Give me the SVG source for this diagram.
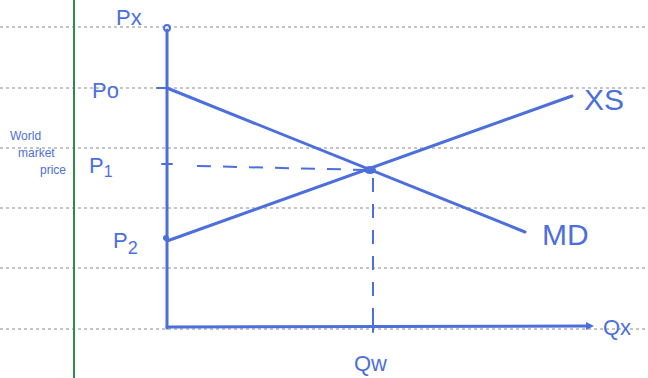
<svg xmlns="http://www.w3.org/2000/svg" width="648" height="378" viewBox="0 0 648 378">
<style>
.rule{stroke:#8a8a8a;stroke-width:1;stroke-dasharray:3 3}
.ink{stroke:#4d6fdb;stroke-width:3;fill:none;stroke-linecap:round}
.thin{stroke:#4d6fdb;stroke-width:2;fill:none;stroke-linecap:round}
.dash{stroke:#4d6fdb;stroke-width:2;fill:none;stroke-dasharray:14 12}
text{font-family:"Liberation Sans",Arial,sans-serif;fill:#4d6fdb}
.lab{font-size:22px}
.big{font-size:30px}
.small{font-size:12px}
</style>
<defs>
<marker id="arr" markerWidth="8" markerHeight="8" refX="4" refY="4" orient="auto" markerUnits="userSpaceOnUse">
<path d="M0,0 L8,4 L0,8 Z" fill="#4d6fdb"/>
</marker>
</defs>
<rect width="648" height="378" fill="#ffffff"/>
<g id="paper">
<line class="rule" x1="0" y1="27" x2="648" y2="27"/>
<line class="rule" x1="0" y1="88" x2="648" y2="88"/>
<line class="rule" x1="0" y1="148" x2="648" y2="148"/>
<line class="rule" x1="0" y1="208" x2="648" y2="208"/>
<line class="rule" x1="0" y1="268" x2="648" y2="268"/>
<line class="rule" x1="0" y1="329" x2="648" y2="329"/>
<line x1="74" y1="0" x2="74" y2="378" stroke="#2e8b4a" stroke-width="2"/>
</g>
<g id="axes">
<line class="ink" x1="167" y1="30" x2="167" y2="328"/>
<circle cx="167" cy="28" r="3" fill="none" stroke="#4d6fdb" stroke-width="2"/>
<line class="ink" x1="167" y1="327" x2="590" y2="326" marker-end="url(#arr)"/>
<line class="thin" x1="157" y1="88" x2="168" y2="88"/>
<line class="thin" x1="162" y1="164" x2="172" y2="164"/>
<circle cx="166" cy="238" r="3" fill="#4d6fdb"/>
<line class="thin" x1="373" y1="318" x2="373" y2="332"/>
</g>
<g id="connectors">
<line class="ink" x1="167" y1="88" x2="525" y2="232"/>
<line class="ink" x1="167" y1="241" x2="572" y2="96"/>
<line class="dash" x1="197" y1="166" x2="368" y2="170"/>
<line class="dash" x1="373" y1="178" x2="373" y2="318"/>
</g>
<g id="equilibrium">
<ellipse cx="370" cy="170" rx="6" ry="4" fill="#4d6fdb"/>
</g>
<g id="labels">
<text class="lab" x="116" y="25">Px</text>
<text class="lab" x="92" y="98">Po</text>
<text class="lab" x="89" y="173">P<tspan font-size="16" dy="4">1</tspan></text>
<text class="lab" x="113" y="248">P<tspan font-size="18" dy="6">2</tspan></text>
<text class="small" x="10" y="140">World</text>
<text class="small" x="18" y="157">market</text>
<text class="small" x="40" y="174">price</text>
<text class="big" x="584" y="110">XS</text>
<text class="big" x="542" y="245">MD</text>
<text class="lab" x="354" y="371">Qw</text>
<text class="lab" x="603" y="335">Qx</text>
</g>
</svg>
